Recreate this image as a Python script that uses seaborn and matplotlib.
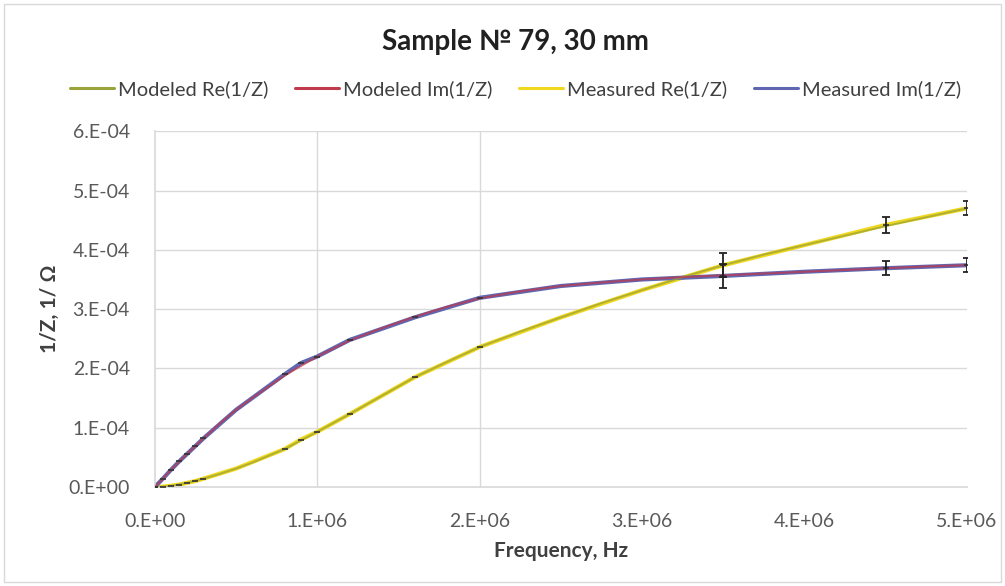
import matplotlib
matplotlib.use("Agg")
import matplotlib.pyplot as plt
import seaborn as sns
import numpy as np
import pandas as pd
from matplotlib.ticker import FixedLocator
from matplotlib.lines import Line2D

sns.set_theme(style="white")
plt.rcParams['font.family'] = ['Lato', 'DejaVu Sans']

# Modeled curves (frequency in Hz, values in 1/Ohm)
model_freq = [0, 0.05e6, 0.1e6, 0.2e6, 0.3e6, 0.4e6, 0.5e6, 0.6e6, 0.8e6, 1.0e6, 1.2e6, 1.4e6,
              1.6e6, 1.8e6, 2.0e6, 2.25e6, 2.5e6, 2.75e6, 3.0e6, 3.25e6, 3.5e6, 3.75e6, 4.0e6,
              4.25e6, 4.5e6, 4.75e6, 5.0e6]
model_im = [0, 0.14e-4, 0.29e-4, 0.56e-4, 0.82e-4, 1.07e-4, 1.30e-4, 1.50e-4, 1.88e-4, 2.20e-4,
            2.47e-4, 2.68e-4, 2.87e-4, 3.04e-4, 3.18e-4, 3.30e-4, 3.39e-4, 3.45e-4, 3.50e-4,
            3.54e-4, 3.57e-4, 3.60e-4, 3.63e-4, 3.66e-4, 3.69e-4, 3.72e-4, 3.74e-4]
model_re = [0, 0.005e-4, 0.02e-4, 0.07e-4, 0.14e-4, 0.22e-4, 0.31e-4, 0.41e-4, 0.64e-4, 0.93e-4,
            1.23e-4, 1.54e-4, 1.85e-4, 2.11e-4, 2.36e-4, 2.62e-4, 2.86e-4, 3.10e-4, 3.32e-4,
            3.54e-4, 3.74e-4, 3.92e-4, 4.08e-4, 4.24e-4, 4.40e-4, 4.55e-4, 4.70e-4]

# Measured points
meas_freq = [0, 0.05e6, 0.1e6, 0.15e6, 0.2e6, 0.25e6, 0.3e6, 0.5e6, 0.8e6, 0.9e6, 1.0e6, 1.2e6,
             1.6e6, 2.0e6, 2.5e6, 3.0e6, 3.5e6, 4.0e6, 4.5e6, 5.0e6]
meas_re = [0, 0.005e-4, 0.02e-4, 0.04e-4, 0.07e-4, 0.10e-4, 0.14e-4, 0.31e-4, 0.64e-4, 0.80e-4,
           0.93e-4, 1.23e-4, 1.85e-4, 2.36e-4, 2.86e-4, 3.32e-4, 3.74e-4, 4.08e-4, 4.42e-4, 4.70e-4]
meas_im = [0, 0.14e-4, 0.29e-4, 0.43e-4, 0.56e-4, 0.69e-4, 0.82e-4, 1.30e-4, 1.90e-4, 2.09e-4,
           2.20e-4, 2.48e-4, 2.86e-4, 3.19e-4, 3.39e-4, 3.50e-4, 3.56e-4, 3.63e-4, 3.69e-4, 3.74e-4]
meas_re_err = [0, 0, 0, 0, 0, 0, 0, 0, 0, 0, 0, 0, 0, 0, 0, 0, 0.2e-4, 0, 0.13e-4, 0.12e-4]
meas_im_err = [0, 0, 0, 0, 0, 0, 0, 0, 0, 0, 0, 0, 0, 0, 0, 0, 0.2e-4, 0, 0.12e-4, 0.12e-4]
meas_marked = [True, True, True, True, True, True, True, False, True, True, True, True,
               True, True, False, False, True, False, True, True]

x_ticks = [0, 1e6, 2e6, 3e6, 4e6, 5e6]
x_tick_labels = ["0.E+00", "1.E+06", "2.E+06", "3.E+06", "4.E+06", "5.E+06"]
y_ticks = [0, 1e-4, 2e-4, 3e-4, 4e-4, 5e-4, 6e-4]
y_tick_labels = ["0.E+00", "1.E-04", "2.E-04", "3.E-04", "4.E-04", "5.E-04", "6.E-04"]

series_names = ["Modeled Re(1/Z)", "Modeled Im(1/Z)", "Measured Re(1/Z)", "Measured Im(1/Z)"]
colors = {"Modeled Re(1/Z)": "#9AA23A", "Modeled Im(1/Z)": "#C0394D",
          "Measured Re(1/Z)": "#F0D81E", "Measured Im(1/Z)": "#5F67B0"}

df_model = pd.concat([
    pd.DataFrame({"f": model_freq, "v": model_re, "series": "Modeled Re(1/Z)"}),
    pd.DataFrame({"f": model_freq, "v": model_im, "series": "Modeled Im(1/Z)"}),
])
df_meas = pd.concat([
    pd.DataFrame({"f": meas_freq, "v": meas_re, "e": meas_re_err, "m": meas_marked,
                  "series": "Measured Re(1/Z)"}),
    pd.DataFrame({"f": meas_freq, "v": meas_im, "e": meas_im_err, "m": meas_marked,
                  "series": "Measured Im(1/Z)"}),
])

fig = plt.figure(figsize=(10.05, 5.86), dpi=100)
ax = fig.add_axes([0.154, 0.169, 0.808, 0.607])

# chart border
fig.patches.append(plt.Rectangle((0.004, 0.006), 0.992, 0.988, transform=fig.transFigure,
                                 fill=False, edgecolor="#d9d9d9", linewidth=1))

sns.lineplot(data=df_meas, x="f", y="v", hue="series", palette=colors, ax=ax,
             linewidth=3.0, legend=False, estimator=None, sort=True, zorder=2)
sns.lineplot(data=df_model, x="f", y="v", hue="series", palette=colors, ax=ax,
             linewidth=1.4, legend=False, estimator=None, sort=True, alpha=0.75, zorder=3)
sns.scatterplot(data=df_meas[df_meas["m"]], x="f", y="v", ax=ax, marker="_", s=22,
                color="#333333", linewidth=1.2, legend=False, zorder=4)

for name, g in df_meas.groupby("series"):
    gg = g[g["e"] > 0]
    ax.errorbar(gg["f"], gg["v"], yerr=gg["e"], fmt="none", ecolor="#222222",
                elinewidth=1.3, capsize=3, capthick=1.3, zorder=5)

ax.set_xlim(0, 5e6)
ax.set_ylim(0, 6e-4)
ax.xaxis.set_major_locator(FixedLocator(x_ticks))
ax.yaxis.set_major_locator(FixedLocator(y_ticks))
ax.set_xticklabels(x_tick_labels)
ax.set_yticklabels(y_tick_labels)
ax.tick_params(axis="both", labelsize=14, colors="#595959", length=0)
ax.tick_params(axis="x", pad=19)
ax.tick_params(axis="y", pad=18)

for y in y_ticks[1:]:
    ax.axhline(y, color="#d9d9d9", linewidth=1, zorder=0)
for x in [1e6, 2e6]:
    ax.axvline(x, color="#d9d9d9", linewidth=1, zorder=0)
for s in ["top", "right"]:
    ax.spines[s].set_visible(False)
ax.spines["left"].set_color("#d9d9d9")
ax.spines["bottom"].set_color("#d9d9d9")

ax.set_xlabel("Frequency, Hz", fontsize=15, fontweight="bold", color="#404040", labelpad=8)
ax.set_ylabel("1/Z, 1/ Ω", fontsize=15, fontweight="bold", color="#404040", labelpad=6)

fig.text(0.513, 0.928, "Sample № 79, 30 mm", ha="center", va="center", fontsize=20,
         fontweight="bold", color="#202020")

handles = [Line2D([0], [0], color=colors[n], linewidth=2.2) for n in series_names]
fig.legend(handles, series_names, loc="center", bbox_to_anchor=(0.513, 0.848), ncol=4,
           frameon=False, fontsize=14.5, handlelength=2.2, handletextpad=0.2,
           columnspacing=1.3, labelcolor="#404040")

fig.savefig("out.png", dpi=100)
